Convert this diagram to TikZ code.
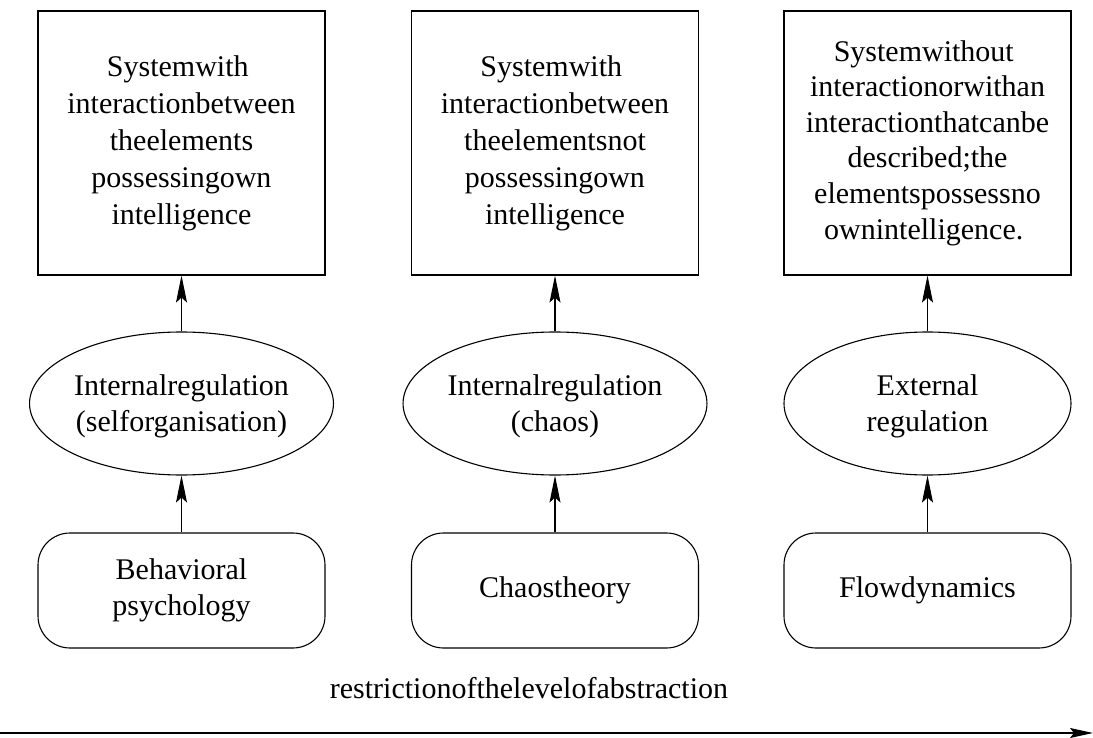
\documentclass[tikz,border=0pt]{standalone}
\usepackage{fontspec}
\setmainfont{Liberation Serif}
\usetikzlibrary{shapes.geometric,arrows.meta}
% trailing blank room after a line, n word spaces wide, so that centred lines sit as set
\newcommand\padws[1]{\hspace*{\dimexpr#1\dimexpr7.5pt\relax\relax}}
\begin{document}
\begin{tikzpicture}[x=1pt,y=-1pt,
  every node/.style={font=\fontsize{30}{36}\selectfont, align=center, inner sep=0pt},
  sysbox/.style={draw, line width=1.1pt, minimum width=287pt, minimum height=264pt},
  regbox/.style={draw, ellipse, line width=1.1pt, minimum width=287pt, minimum height=143pt, text depth=0pt},
  theorybox/.style={draw, rounded corners=32pt, line width=1.1pt, minimum width=287pt, minimum height=115pt},
  link/.style={line width=1.1pt, -{Stealth[length=27pt, width=11pt, inset=5pt]}},
  axis/.style={line width=1.1pt, -{Stealth[length=23pt, width=10pt, inset=4pt]}}
]
\useasboundingbox (0,0) rectangle (1093,738);

% top row: system descriptions
\node[sysbox, font=\fontsize{30}{37}\selectfont] (s1) at (181.5,143)
  {Systemwith\padws1\\interactionbetween\padws1\\theelements\padws1\\possessingown\padws1\\intelligence};
\node[sysbox, font=\fontsize{30}{37}\selectfont] (s2) at (555,143)
  {Systemwith\padws1\\interactionbetween\padws1\\theelementsnot\padws2\\possessingown\padws1\\intelligence};
\node[sysbox, font=\fontsize{30}{35.6}\selectfont] (s3) at (927.5,143)
  {Systemwithout\padws1\\interactionorwithan\padws3\\interactionthatcanbe\padws3\\described;the\padws1\\elementspossessno\padws2\\ownintelligence.\padws1};

% middle row: kind of regulation
\node[regbox] (r1) at (181.5,403.5) {Internalregulation\\(selforganisation)};
\node[regbox] (r2) at (555,403.5) {Internalregulation\\(chaos)};
\node[regbox] (r3) at (927.5,403.5) {External\\regulation};

% bottom row: theories
\node[theorybox] (t1) at (181.5,590.5) {Behavioral\\psychology};
\node[theorybox] (t2) at (555,590.5) {Chaostheory};
\node[theorybox] (t3) at (927.5,590.5) {Flowdynamics};

\foreach \i in {1,2,3} {
  \draw[link] (t\i) -- (r\i);
  \draw[link] (r\i) -- (s\i);
}

% abstraction axis
\coordinate (a0) at (0,733);
\coordinate (a1) at (1093,733);
\draw[axis] (a0) -- (a1);
\node (lab) at (529,688) {restrictionofthelevelofabstraction};
\end{tikzpicture}
\end{document}
